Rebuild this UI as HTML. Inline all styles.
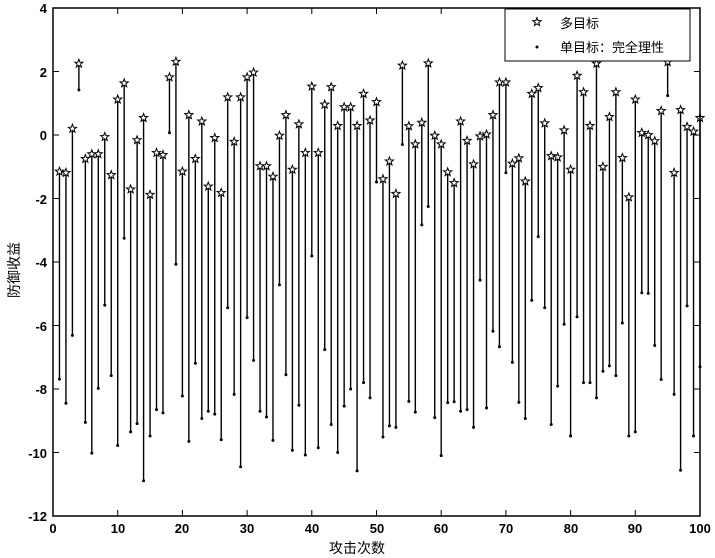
<!DOCTYPE html>
<html><head><meta charset="utf-8"><style>
body{margin:0;background:#fff;}
svg{display:block;font-family:"Liberation Sans","Noto Sans CJK SC",sans-serif;}
</style></head><body>
<svg id="s" width="715" height="558" viewBox="0 0 715 558" xmlns="http://www.w3.org/2000/svg">
<rect width="715" height="558" fill="#fff"/>
<g id="data"></g>
<rect x="53" y="8" width="647" height="508" fill="none" stroke="#000" stroke-width="1.5"/>
<g id="ticks" stroke="#000" stroke-width="1"></g>
<g font-size="13" font-weight="bold" fill="#000" text-anchor="end">
<text x="47" y="13">4</text><text x="47" y="77">2</text><text x="47" y="140">0</text>
<text x="47" y="204">-2</text><text x="47" y="267">-4</text><text x="47" y="331">-6</text>
<text x="47" y="394">-8</text><text x="47" y="458">-10</text><text x="47" y="521">-12</text>
</g>
<g font-size="13" font-weight="bold" fill="#000" text-anchor="middle">
<text x="53" y="533">0</text><text x="118" y="533">10</text><text x="182" y="533">20</text>
<text x="247" y="533">30</text><text x="312" y="533">40</text><text x="377" y="533">50</text>
<text x="441" y="533">60</text><text x="506" y="533">70</text><text x="571" y="533">80</text>
<text x="635" y="533">90</text><text x="700" y="533">100</text>
</g>
<text x="357" y="553" font-size="14" text-anchor="middle">攻击次数</text>
<text transform="translate(19,270) rotate(-90)" font-size="14" text-anchor="middle">防御收益</text>
<rect x="505" y="9" width="185" height="52" fill="#fff" stroke="#000" stroke-width="1"/>
<path id="lstar" d="" fill="#fff" stroke="#000" stroke-width="1"/>
<circle cx="537" cy="47" r="1.5" fill="#000"/>
<text x="560" y="28" font-size="13">多目标</text>
<text x="560" y="52" font-size="13">单目标：完全理性</text>
</svg>
<script>
var S=[-1.15,-1.19,0.2,2.25,-0.75,-0.6,-0.6,-0.06,-1.26,1.12,1.63,-1.71,-0.16,0.54,-1.88,-0.56,-0.63,1.82,2.31,-1.15,0.63,-0.75,0.43,-1.62,-0.09,-1.82,1.19,-0.21,1.19,1.82,1.97,-0.98,-0.98,-1.31,-0.02,0.63,-1.09,0.34,-0.56,1.53,-0.56,0.96,1.51,0.29,0.88,0.88,0.29,1.3,0.46,1.04,-1.39,-0.83,-1.85,2.19,0.28,-0.29,0.39,2.26,-0.02,-0.29,-1.17,-1.51,0.43,-0.18,-0.92,-0.04,0.02,0.63,1.66,1.66,-0.9,-0.73,-1.46,1.3,1.48,0.37,-0.66,-0.7,0.15,-1.09,1.87,1.35,0.29,2.25,-1.0,0.57,1.35,-0.72,-1.96,1.12,0.07,0,-0.19,0.76,2.3,-1.19,0.79,0.26,0.11,0.54];
var D=[-7.69,-8.45,-6.31,1.42,-9.05,-10.02,-7.98,-5.36,-7.58,-9.78,-3.25,-9.35,-9.09,-10.89,-9.48,-8.65,-8.75,0.07,-4.07,-8.22,-9.65,-7.19,-8.93,-8.7,-8.79,-9.6,-5.44,-8.17,-10.45,-5.75,-7.1,-8.7,-8.88,-9.62,-4.72,-7.55,-9.93,-8.51,-10.08,-3.81,-9.85,-6.76,-9.12,-10.0,-8.54,-8.0,-10.58,-7.8,-8.28,-1.48,-9.51,-9.16,-9.21,-0.3,-8.39,-8.73,-2.83,-2.25,-8.9,-10.1,-8.43,-8.4,-8.7,-8.65,-9.21,-4.57,-8.6,-6.18,-6.67,-1.19,-7.16,-8.42,-8.93,-5.21,-3.2,-5.44,-9.12,-7.91,-5.96,-9.48,-5.73,-7.8,-7.8,-8.28,-7.44,-7.27,-7.58,-5.92,-9.48,-9.35,-4.97,-4.99,-6.63,-7.7,1.24,-8.17,-10.56,-5.38,-9.48,-7.3];
function X(i){return 53+i*6.47;}function Y(v){return 8+(4-v)*31.75;}
function star(cx,cy,r){var p="";for(var k=0;k<10;k++){var rr=k%2?r*0.42:r;var a=-Math.PI/2+k*Math.PI/5;p+=(k?"L":"M")+(cx+rr*Math.cos(a)).toFixed(2)+" "+(cy+rr*Math.sin(a)).toFixed(2);}return p+"Z";}
var h="",sp="";
for(var i=0;i<100;i++){var x=X(i+1),a=Y(S[i]),b=Y(D[i]);
h+='<line x1="'+x+'" y1="'+a+'" x2="'+x+'" y2="'+b+'" stroke="#000" stroke-width="1.4"/>';
h+='<circle cx="'+x+'" cy="'+b+'" r="1.5" fill="#000"/>';
sp+=star(x,a,4.3);}
h+='<path d="'+sp+'" fill="#fff" stroke="#000" stroke-width="1"/>';
document.getElementById("data").innerHTML=h;
var t="";for(var j=0;j<=10;j++){var x=53+j*64.7;t+='<line x1="'+x+'" y1="516" x2="'+x+'" y2="510"/><line x1="'+x+'" y1="8" x2="'+x+'" y2="14"/>';}
for(var j=0;j<=8;j++){var y=8+j*63.5;t+='<line x1="53" y1="'+y+'" x2="59" y2="'+y+'"/><line x1="700" y1="'+y+'" x2="694" y2="'+y+'"/>';}
document.getElementById("ticks").innerHTML=t;
document.getElementById("lstar").setAttribute("d",star(537,22,4.3));
</script>
</body></html>
